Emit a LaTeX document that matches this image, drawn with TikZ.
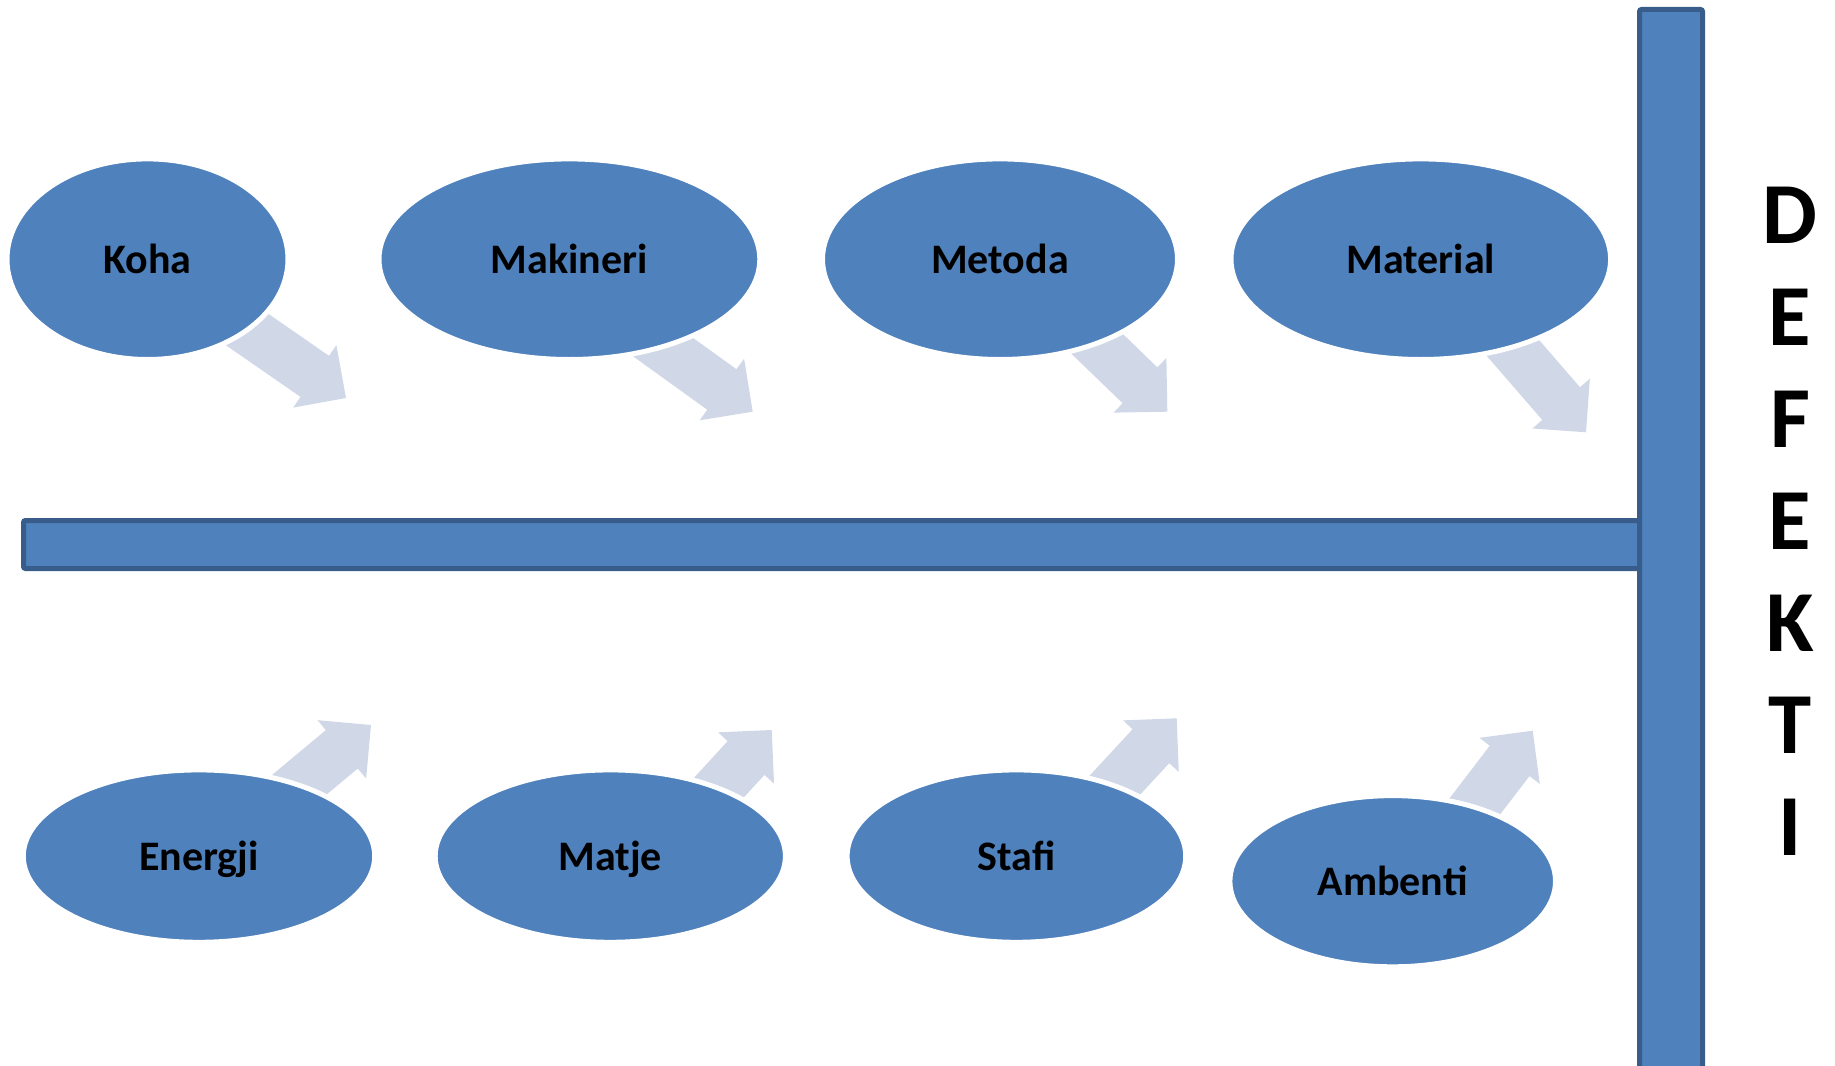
\documentclass[tikz,border=0pt]{standalone}
\usepackage{fontspec}
\setmainfont{Carlito}
\usetikzlibrary{calc,shapes.geometric}
\definecolor{bluefill}{RGB}{79,129,189}
\definecolor{blueedge}{RGB}{56,93,138}
\definecolor{arrowfill}{RGB}{208,216,232}
\newcommand\blockarr[2]{% #1 tail, #2 tip
  \fill[arrowfill] (#2) -- ($(#2)!53.7pt!45:(#1)$) -- ($(#2)!45.5pt!33.3:(#1)$)
    -- ($(#1)!25pt!-90:(#2)$) -- ($(#1)!25pt!90:(#2)$)
    -- ($(#2)!45.5pt!-33.3:(#1)$) -- ($(#2)!53.7pt!-45:(#1)$) -- cycle;}
\begin{document}
\begin{tikzpicture}[x=1pt,y=-1pt,
  cause/.style={ellipse, fill=bluefill, draw=white, line width=5pt, inner sep=0pt,
    text height=28pt, text depth=0pt, font=\bfseries\fontsize{42}{50}\selectfont},
  bar/.style={fill=bluefill, draw=blueedge, line width=5pt, rounded corners=2pt}]
\useasboundingbox (0,0) rectangle (1835,1065);

% spine bars
\draw[bar] (23.5,520.5) rectangle (1660,568.5);
\draw[bar] (1639.5,9.5) rectangle (1702.5,1090);

% arrow coordinates
\coordinate (kohaTail) at (222.7,312.6);   \coordinate (kohaTip) at (346,398);
\coordinate (makTail) at (631,324);        \coordinate (makTip) at (752.7,411.7);
\coordinate (metTail) at (1059.4,307.4);   \coordinate (metTip) at (1167.3,411.7);
\coordinate (matTail) at (1487.7,318.9);   \coordinate (matTip) at (1586,432.3);
\coordinate (eneTail) at (255.8,821);      \coordinate (eneTip) at (371,725);
\coordinate (matjTail) at (670.3,840.6);   \coordinate (matjTip) at (771.7,730);
\coordinate (stfTail) at (1074.8,828.4);   \coordinate (stfTip) at (1176.7,718.3);
\coordinate (ambTail) at (1441.6,849.8);   \coordinate (ambTip) at (1532.7,730.7);

\blockarr{kohaTail}{kohaTip}
\blockarr{makTail}{makTip}
\blockarr{metTail}{metTip}
\blockarr{matTail}{matTip}
\blockarr{eneTail}{eneTip}
\blockarr{matjTail}{matjTip}
\blockarr{stfTail}{stfTip}
\blockarr{ambTail}{ambTip}

% causes
\node[cause, minimum width=281pt, minimum height=200.6pt] (koha) at (147.5,259.2) {Koha};
\node[cause, minimum width=380.8pt, minimum height=200.6pt] (makineri) at (569.4,259.2) {Makineri};
\node[cause, minimum width=355pt, minimum height=200.6pt] (metoda) at (1000,259.2) {Metoda};
\node[cause, minimum width=379.6pt, minimum height=200.6pt] (material) at (1420.8,259.2) {Material};
\node[cause, minimum width=351.4pt, minimum height=172.4pt] (energji) at (199,856.1) {Energji};
\node[cause, minimum width=350.2pt, minimum height=172.4pt] (matje) at (610.3,856.1) {Matje};
\node[cause, minimum width=338.6pt, minimum height=172.4pt] (stafi) at (1016.4,856.1) {Stafi};
\node[cause, minimum width=325.6pt, minimum height=171.2pt] (ambenti) at (1392.7,881.2) {Ambenti};

% effect
\node[align=center, inner sep=0pt, font=\bfseries\fontsize{87}{102}\selectfont] (defekti) at (1790,521)
  {D\\E\\F\\E\\K\\T\\I};
\end{tikzpicture}
\end{document}
